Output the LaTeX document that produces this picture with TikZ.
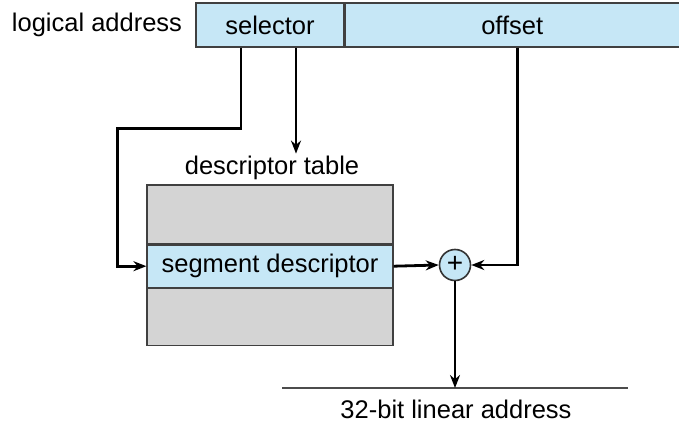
\documentclass[tikz,border=0pt]{standalone}
\usepackage{fontspec}
\setmainfont{Liberation Sans}
\usetikzlibrary{arrows.meta,positioning}
\definecolor{fieldblue}{RGB}{198,231,246}
\definecolor{tablegray}{RGB}{212,212,212}

\begin{document}
\begin{tikzpicture}[x=1pt,y=-1pt,>={Stealth[length=13pt,width=10pt]},line width=2.8pt,
    every node/.style={font=\fontsize{25.5}{30}\selectfont},
    field/.style={draw=black!75,line width=1.2pt,fill=fieldblue,inner sep=0pt,minimum height=44pt},
    slot/.style={draw=black!75,line width=1.2pt,fill=tablegray,inner sep=0pt,minimum width=246pt},
    adder/.style={circle,draw=black!80,line width=1.6pt,fill=fieldblue,inner sep=0pt,minimum size=31pt}]
    \useasboundingbox (0,0) rectangle (679,422);

    % logical address fields
    \node (la) at (97,25) {logical address};
    \node[field,minimum width=148pt] (sel) at (270,25) {selector};
    \node[field,minimum width=334pt,right=0pt of sel] (off) {offset};

    % descriptor table
    \node (dt) at (272,168) {descriptor table};
    \node[slot,minimum height=59pt] (top) at (270,214.5) {};
    \node[slot,fill=fieldblue,minimum height=42pt,below=0pt of top] (seg) {segment descriptor};
    \node[slot,minimum height=57pt,below=0pt of seg] (bot) {};

    \node[adder] (plus) at (455,265) {\fontsize{28}{28}\selectfont\raisebox{1pt}{+}};

    % linear address
    \coordinate (linL) at (282,388);
    \coordinate (linR) at (628,388);
    \draw[black!70,line width=1.2pt] (linL) -- (linR);
    \node (lin) at (456,409) {32-bit linear address};

    \draw[->] ([xshift=-29pt]sel.south) -- ++(0,81) -| ([xshift=-29pt]seg.west) -- (seg.west);
    \draw[->] ([xshift=26pt]sel.south) -- ++(0,106);
    \draw[->] ([xshift=5pt]off.south) |- (plus.east);
    \draw[->] (seg.east) -- (plus.west);
    \draw[->] (plus.south) -- (plus.south |- linL);
\end{tikzpicture}
\end{document}
